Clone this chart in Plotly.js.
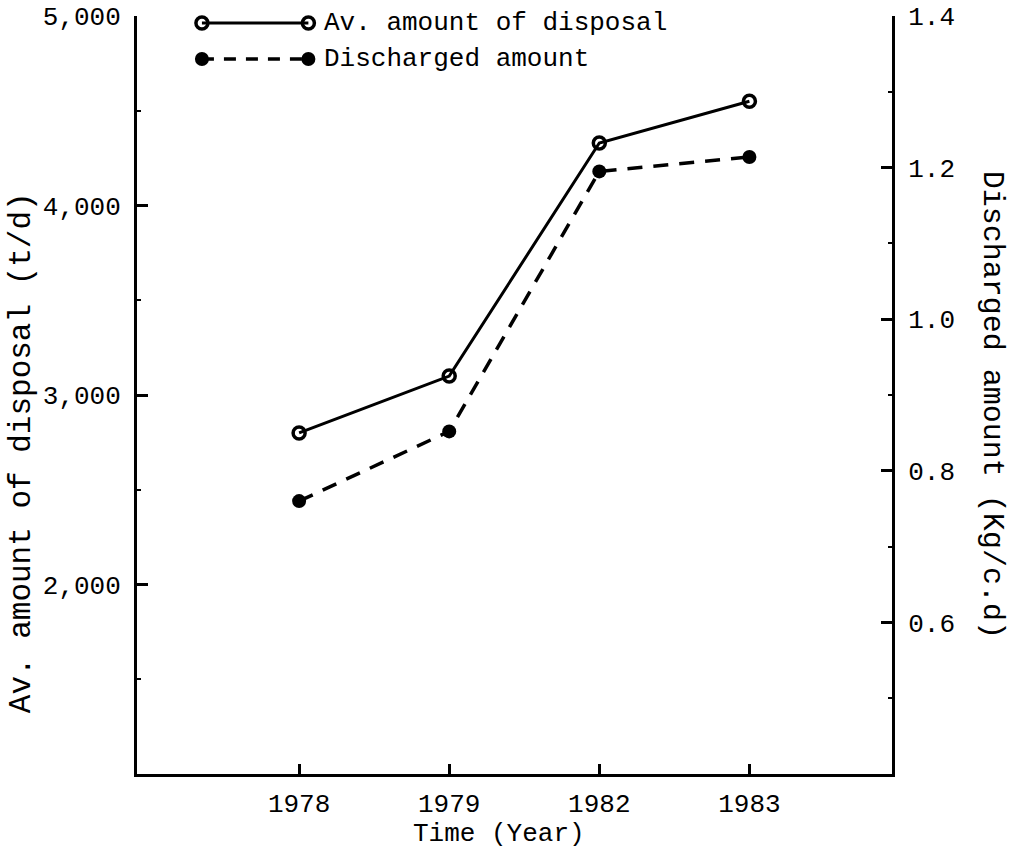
<!DOCTYPE html>
<html>
<head>
<meta charset="utf-8">
<script src="https://cdn.plot.ly/plotly-3.0.1.min.js"></script>
<style>html,body{margin:0;padding:0;background:#fff;}#chart{width:1009px;height:852px;}</style>
</head>
<body>
<div id="chart"></div>
<script>
var years = ["1978", "1979", "1982", "1983"];
var disposal = [2800, 3100, 4330, 4550];      // t/d, left axis
var discharged = [0.76, 0.852, 1.195, 1.214]; // Kg/c.d, right axis
var leftTicks = [2000, 3000, 4000, 5000];
var leftTickText = ["2,000", "3,000", "4,000", "5,000"];
var rightTicks = [0.6, 0.8, 1.0, 1.2, 1.4];
var rightTickText = ["0.6", "0.8", "1.0", "1.2", "1.4"];
var seriesNames = ["Av. amount of disposal", "Discharged amount"];

var FONT = "Liberation Mono, Courier New, monospace";
var FS = 26;

var traces = [
  {x: years, y: disposal, type: "scatter", mode: "lines+markers", xaxis: "x", yaxis: "y",
   line: {color: "#000", width: 3},
   marker: {symbol: "circle-open", size: 12, color: "#000", line: {width: 3.5, color: "#000"}},
   cliponaxis: false, showlegend: false},
  {x: years, y: discharged, type: "scatter", mode: "lines+markers", xaxis: "x", yaxis: "y2",
   line: {color: "#000", width: 3.5, dash: "15px,11px"},
   marker: {symbol: "circle", size: 14, color: "#000"},
   cliponaxis: false, showlegend: false},
  // legend samples on a hidden overlay axis
  {x: [0.086, 0.227], y: [0.9908, 0.9908], type: "scatter", mode: "lines+markers", xaxis: "x2", yaxis: "y3",
   line: {color: "#000", width: 3},
   marker: {symbol: "circle-open", size: 12, color: "#000", line: {width: 3.5, color: "#000"}},
   cliponaxis: false, showlegend: false, hoverinfo: "skip"},
  {x: [0.086, 0.227], y: [0.9433, 0.9433], type: "scatter", mode: "lines+markers", xaxis: "x2", yaxis: "y3",
   line: {color: "#000", width: 3.5, dash: "12px,10px"},
   marker: {symbol: "circle", size: 14, color: "#000"},
   cliponaxis: false, showlegend: false, hoverinfo: "skip"}
];

var layout = {
  width: 1009, height: 852,
  margin: {l: 137, r: 117, t: 16, b: 78},
  paper_bgcolor: "#fff", plot_bgcolor: "#fff",
  font: {family: FONT, size: FS, color: "#000"},
  showlegend: false,
  xaxis: {
    type: "category", range: [-1.08, 3.95],
    showline: true, linecolor: "#000", linewidth: 3,
    ticks: "inside", ticklen: 10, tickwidth: 3, tickcolor: "#000",
    ticklabelstandoff: 4,
    showgrid: false, zeroline: false,
    tickfont: {family: FONT, size: FS, color: "#000"}
  },
  yaxis: {
    range: [1000, 5000],
    tickvals: leftTicks, ticktext: leftTickText,
    showline: true, linecolor: "#000", linewidth: 3,
    ticks: "inside", ticklen: 11, tickwidth: 3, tickcolor: "#000",
    minor: {dtick: 500, ticks: "inside", ticklen: 4, tickwidth: 2, tickcolor: "#000"},
    ticklabelstandoff: 8,
    showgrid: false, zeroline: false,
    tickfont: {family: FONT, size: FS, color: "#000"}
  },
  yaxis2: {
    range: [0.4, 1.4], overlaying: "y", side: "right",
    tickvals: rightTicks, ticktext: rightTickText,
    showline: true, linecolor: "#000", linewidth: 3,
    ticks: "inside", ticklen: 11, tickwidth: 3, tickcolor: "#000",
    minor: {dtick: 0.1, ticks: "inside", ticklen: 4, tickwidth: 2, tickcolor: "#000"},
    ticklabelstandoff: 8,
    showgrid: false, zeroline: false,
    tickfont: {family: FONT, size: FS, color: "#000"}
  },
  xaxis2: {overlaying: "x", range: [0, 1], visible: false, fixedrange: true},
  yaxis3: {overlaying: "y", range: [0, 1], visible: false, fixedrange: true},
  annotations: [
    {text: seriesNames[0], xref: "paper", yref: "paper", x: 0.245, y: 0.9908, xanchor: "left", yanchor: "middle", showarrow: false, font: {family: FONT, size: FS, color: "#000"}},
    {text: seriesNames[1], xref: "paper", yref: "paper", x: 0.245, y: 0.9433, xanchor: "left", yanchor: "middle", showarrow: false, font: {family: FONT, size: FS, color: "#000"}},
    {text: "Time (Year)", xref: "paper", yref: "paper", x: 0.48, y: -0.0795, xanchor: "center", yanchor: "middle", showarrow: false, font: {family: FONT, size: FS, color: "#000"}},
    {text: "Av. amount of disposal (t/d)", xref: "paper", yref: "paper", x: -0.152, y: 0.4235, xanchor: "center", yanchor: "middle", textangle: -90, showarrow: false, font: {family: FONT, size: 31, color: "#000"}},
    {text: "Discharged amount (Kg/c.d)", xref: "paper", yref: "paper", x: 1.1325, y: 0.487, xanchor: "center", yanchor: "middle", textangle: 90, showarrow: false, font: {family: FONT, size: 30, color: "#000"}}
  ]
};

Plotly.newPlot("chart", traces, layout, {staticPlot: true, displayModeBar: false});
</script>
</body>
</html>
